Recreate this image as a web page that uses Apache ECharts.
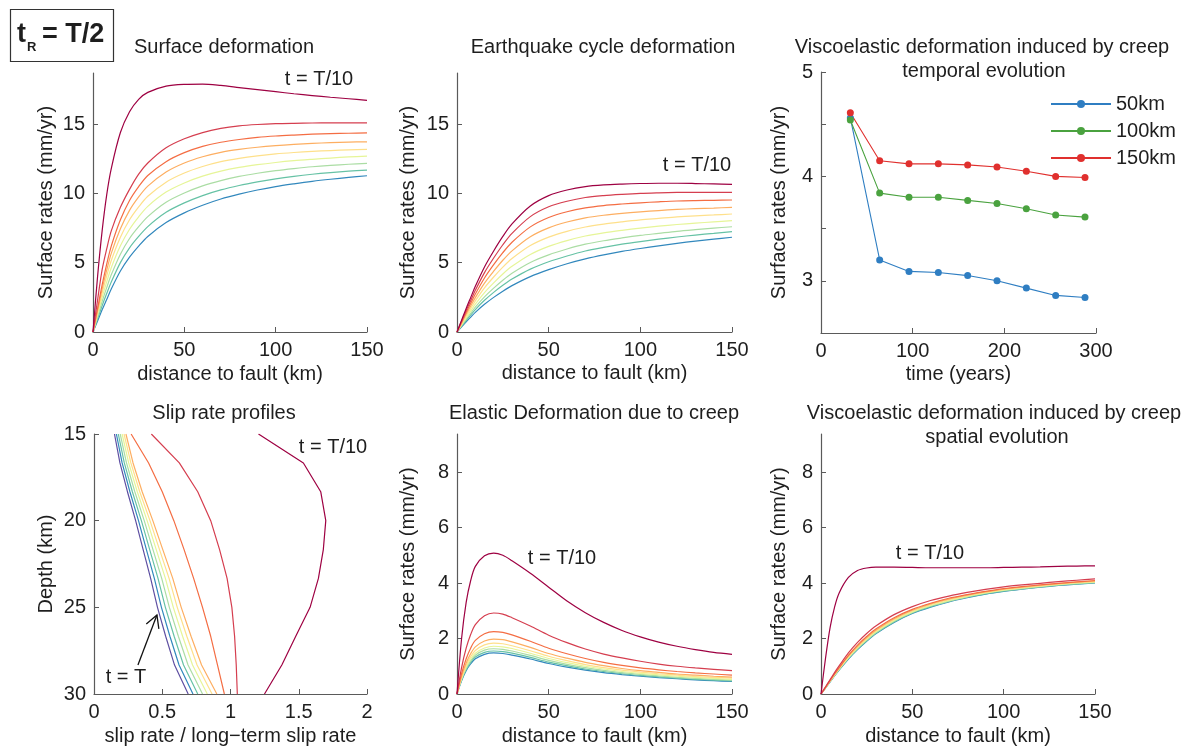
<!DOCTYPE html>
<html>
<head>
<meta charset="utf-8">
<script src="https://cdn.jsdelivr.net/npm/echarts@6/dist/echarts.min.js"></script>
<style>
html,body{margin:0;padding:0;background:#fff;}
#c{width:1189px;height:749px;}
</style>
</head>
<body>
<div id="c"></div>
<script>
// ---------- data ----------
const distKm = [0, 2.5, 5, 7.5, 10, 15, 20, 25, 30, 40, 50, 60, 70, 80, 90, 100, 110, 120, 130, 140, 150];
const curveColors = ['#9e0142', '#d53e4f', '#f46d43', '#fdae61', '#fee08b', '#e6f598', '#abdda4', '#66c2a5', '#3288bd'];
const slipColors = ['#9e0142', '#d53e4f', '#f46d43', '#fdae61', '#fee08b', '#e6f598', '#abdda4', '#66c2a5', '#3288bd', '#5e4fa2'];

// Panel 1: Surface deformation (t = T/10 first)
const surface_T10 = [0, 4.0, 7.3, 9.9, 11.8, 14.4, 15.9, 16.8, 17.3, 17.75, 17.88, 17.9, 17.8, 17.65, 17.5, 17.35, 17.2, 17.07, 16.95, 16.84, 16.73];
const surface_2 = [0, 2.3, 4.5, 6.0, 7.3, 9.0, 10.3, 11.4, 12.2, 13.3, 13.95, 14.4, 14.7, 14.88, 14.98, 15.04, 15.07, 15.09, 15.1, 15.1, 15.1];
const surface_3 = [0, 1.7, 3.4, 4.9, 6.2, 8.1, 9.5, 10.5, 11.3, 12.3, 12.95, 13.4, 13.7, 13.9, 14.05, 14.15, 14.22, 14.28, 14.32, 14.35, 14.37];
const surface_4 = [0, 1.55, 3.1, 4.47, 5.68, 7.45, 8.78, 9.75, 10.53, 11.55, 12.2, 12.65, 12.97, 13.18, 13.34, 13.46, 13.55, 13.62, 13.67, 13.71, 13.73];
const surface_5 = [0, 1.4, 2.8, 4.05, 5.16, 6.84, 8.1, 9.03, 9.8, 10.82, 11.48, 11.95, 12.3, 12.54, 12.72, 12.86, 12.96, 13.04, 13.1, 13.15, 13.18];
const surface_6 = [0, 1.25, 2.5, 3.62, 4.64, 6.22, 7.42, 8.32, 9.07, 10.1, 10.76, 11.25, 11.61, 11.88, 12.08, 12.24, 12.37, 12.47, 12.56, 12.64, 12.7];
const surface_7 = [0, 1.1, 2.2, 3.2, 4.13, 5.62, 6.75, 7.6, 8.33, 9.37, 10.04, 10.55, 10.93, 11.23, 11.46, 11.65, 11.8, 11.93, 12.03, 12.11, 12.17];
const surface_8 = [0, 0.95, 1.9, 2.78, 3.61, 5.01, 6.08, 6.9, 7.61, 8.64, 9.32, 9.85, 10.26, 10.58, 10.84, 11.06, 11.24, 11.39, 11.51, 11.61, 11.69];
const surface_9 = [0, 0.8, 1.6, 2.35, 3.1, 4.4, 5.4, 6.2, 6.9, 7.9, 8.6, 9.15, 9.6, 9.95, 10.25, 10.5, 10.7, 10.88, 11.03, 11.16, 11.28];

// Panel 2: Earthquake cycle deformation
const cycle_T10 = [0, 0.85, 1.7, 2.5, 3.3, 4.7, 5.85, 6.9, 7.8, 9.1, 9.85, 10.25, 10.5, 10.62, 10.68, 10.72, 10.74, 10.74, 10.72, 10.69, 10.66];
const cycle_2 = [0, 0.78, 1.55, 2.28, 3.01, 4.29, 5.34, 6.3, 7.12, 8.33, 9.04, 9.44, 9.71, 9.85, 9.94, 10.01, 10.05, 10.08, 10.09, 10.08, 10.08];
const cycle_3 = [0, 0.71, 1.41, 2.08, 2.74, 3.9, 4.86, 5.73, 6.48, 7.59, 8.27, 8.68, 8.96, 9.13, 9.24, 9.33, 9.4, 9.46, 9.49, 9.51, 9.53];
const cycle_4 = [0, 0.64, 1.28, 1.88, 2.48, 3.53, 4.39, 5.18, 5.86, 6.88, 7.52, 7.94, 8.24, 8.43, 8.57, 8.68, 8.77, 8.85, 8.91, 8.95, 9.0];
const cycle_5 = [0, 0.58, 1.16, 1.7, 2.25, 3.19, 3.97, 4.68, 5.3, 6.24, 6.85, 7.27, 7.58, 7.79, 7.95, 8.09, 8.2, 8.31, 8.39, 8.45, 8.52];
const cycle_6 = [0, 0.52, 1.03, 1.52, 2.01, 2.85, 3.55, 4.19, 4.74, 5.6, 6.18, 6.6, 6.93, 7.16, 7.34, 7.5, 7.64, 7.76, 7.86, 7.95, 8.04];
const cycle_7 = [0, 0.47, 0.92, 1.36, 1.8, 2.54, 3.17, 3.74, 4.24, 5.02, 5.57, 5.99, 6.34, 6.59, 6.79, 6.97, 7.12, 7.27, 7.39, 7.5, 7.6];
const cycle_8 = [0, 0.42, 0.83, 1.23, 1.62, 2.29, 2.86, 3.37, 3.82, 4.54, 5.07, 5.49, 5.85, 6.11, 6.34, 6.53, 6.7, 6.86, 7.0, 7.12, 7.25];
const cycle_9 = [0, 0.37, 0.73, 1.08, 1.42, 2.0, 2.5, 2.95, 3.35, 4.0, 4.5, 4.93, 5.28, 5.57, 5.82, 6.03, 6.22, 6.4, 6.56, 6.7, 6.84];

// Panel 3: temporal evolution
const timeYears = [32, 64, 96, 128, 160, 192, 224, 256, 288];
const rate50km = [4.56, 3.20, 3.09, 3.08, 3.05, 3.00, 2.93, 2.86, 2.84];
const rate100km = [4.54, 3.84, 3.80, 3.80, 3.77, 3.74, 3.69, 3.63, 3.61];
const rate150km = [4.61, 4.15, 4.12, 4.12, 4.11, 4.09, 4.05, 4.00, 3.99];

// Panel 4: slip rate profiles
const depthKm = [15, 16.67, 18.33, 20, 21.67, 23.33, 25, 26.67, 28.33, 30];
const slip_T10 = [1.205, 1.534, 1.661, 1.698, 1.68, 1.644, 1.583, 1.478, 1.376, 1.249];
const slip_2 = [0.42, 0.625, 0.76, 0.855, 0.92, 0.975, 1.01, 1.03, 1.042, 1.05];
const slip_3 = [0.272, 0.40, 0.50, 0.585, 0.66, 0.73, 0.795, 0.855, 0.905, 0.955];
const slip_4 = [0.234, 0.286, 0.353, 0.431, 0.504, 0.577, 0.639, 0.711, 0.788, 0.90];
const slip_5 = [0.22, 0.27, 0.335, 0.41, 0.48, 0.55, 0.61, 0.68, 0.755, 0.865];
const slip_6 = [0.206, 0.254, 0.317, 0.389, 0.456, 0.523, 0.581, 0.649, 0.722, 0.83];
const slip_7 = [0.192, 0.238, 0.299, 0.368, 0.432, 0.496, 0.552, 0.618, 0.689, 0.795];
const slip_8 = [0.178, 0.222, 0.281, 0.347, 0.408, 0.469, 0.523, 0.587, 0.656, 0.76];
const slip_9 = [0.164, 0.206, 0.263, 0.326, 0.384, 0.442, 0.494, 0.556, 0.623, 0.725];
const slip_T = [0.15, 0.19, 0.245, 0.305, 0.36, 0.415, 0.465, 0.525, 0.59, 0.69];

// Panel 5: Elastic deformation due to creep
const elastic_T10 = [0, 2.0, 3.3, 4.1, 4.6, 4.98, 5.08, 5.0, 4.8, 4.35, 3.85, 3.35, 2.93, 2.58, 2.29, 2.06, 1.87, 1.72, 1.6, 1.5, 1.43];
const elastic_2 = [0, 0.95, 1.65, 2.15, 2.5, 2.82, 2.92, 2.88, 2.75, 2.45, 2.12, 1.85, 1.62, 1.44, 1.3, 1.18, 1.08, 1.0, 0.94, 0.89, 0.84];
const elastic_3 = [0, 0.73, 1.27, 1.66, 1.93, 2.17, 2.25, 2.22, 2.13, 1.9, 1.65, 1.45, 1.28, 1.14, 1.03, 0.94, 0.87, 0.81, 0.76, 0.72, 0.68];
const elastic_4 = [0, 0.64, 1.12, 1.46, 1.7, 1.91, 1.98, 1.96, 1.88, 1.68, 1.46, 1.29, 1.14, 1.02, 0.92, 0.84, 0.78, 0.72, 0.68, 0.64, 0.61];
const elastic_5 = [0, 0.59, 1.03, 1.35, 1.57, 1.77, 1.83, 1.81, 1.74, 1.56, 1.36, 1.2, 1.06, 0.95, 0.86, 0.79, 0.73, 0.68, 0.63, 0.6, 0.57];
const elastic_6 = [0, 0.56, 0.97, 1.27, 1.47, 1.66, 1.72, 1.7, 1.64, 1.47, 1.28, 1.13, 1.0, 0.9, 0.81, 0.74, 0.69, 0.64, 0.6, 0.56, 0.53];
const elastic_7 = [0, 0.53, 0.92, 1.2, 1.4, 1.58, 1.63, 1.61, 1.55, 1.39, 1.21, 1.07, 0.95, 0.85, 0.77, 0.71, 0.65, 0.6, 0.56, 0.53, 0.5];
const elastic_8 = [0, 0.5, 0.88, 1.14, 1.33, 1.5, 1.55, 1.53, 1.47, 1.32, 1.15, 1.02, 0.9, 0.81, 0.73, 0.67, 0.62, 0.57, 0.53, 0.5, 0.47];
const elastic_9 = [0, 0.48, 0.84, 1.09, 1.27, 1.43, 1.48, 1.46, 1.4, 1.26, 1.1, 0.97, 0.86, 0.77, 0.7, 0.64, 0.59, 0.55, 0.51, 0.48, 0.45];

// Panel 6: Viscoelastic spatial evolution
const spatial_T10 = [0, 1.3, 2.4, 3.15, 3.65, 4.2, 4.45, 4.54, 4.57, 4.57, 4.56, 4.55, 4.55, 4.55, 4.55, 4.56, 4.57, 4.58, 4.6, 4.61, 4.62];
const spatial_2 = [0, 0.26, 0.52, 0.78, 1.02, 1.48, 1.86, 2.18, 2.45, 2.86, 3.15, 3.37, 3.53, 3.66, 3.77, 3.86, 3.93, 3.99, 4.05, 4.1, 4.15];
const spatial_3 = [0, 0.24, 0.49, 0.73, 0.96, 1.39, 1.76, 2.07, 2.34, 2.75, 3.05, 3.27, 3.45, 3.58, 3.7, 3.8, 3.87, 3.93, 3.99, 4.04, 4.09];
const spatial_4 = [0, 0.24, 0.48, 0.72, 0.94, 1.37, 1.72, 2.03, 2.3, 2.71, 3.02, 3.25, 3.42, 3.56, 3.68, 3.78, 3.85, 3.92, 3.98, 4.03, 4.07];
const spatial_5 = [0, 0.23, 0.47, 0.7, 0.92, 1.34, 1.69, 2.0, 2.27, 2.68, 2.99, 3.22, 3.4, 3.54, 3.66, 3.76, 3.83, 3.9, 3.96, 4.01, 4.05];
const spatial_6 = [0, 0.23, 0.46, 0.69, 0.91, 1.31, 1.67, 1.97, 2.24, 2.65, 2.96, 3.19, 3.37, 3.52, 3.64, 3.74, 3.82, 3.89, 3.95, 4.0, 4.04];
const spatial_7 = [0, 0.23, 0.45, 0.68, 0.89, 1.3, 1.64, 1.94, 2.21, 2.62, 2.94, 3.17, 3.35, 3.5, 3.63, 3.73, 3.8, 3.87, 3.93, 3.98, 4.02];
const spatial_8 = [0, 0.22, 0.45, 0.67, 0.88, 1.28, 1.62, 1.92, 2.19, 2.6, 2.92, 3.15, 3.34, 3.49, 3.61, 3.71, 3.79, 3.86, 3.92, 3.97, 4.01];
const spatial_9 = [0, 0.22, 0.44, 0.66, 0.87, 1.26, 1.6, 1.9, 2.17, 2.58, 2.9, 3.13, 3.32, 3.47, 3.6, 3.7, 3.78, 3.85, 3.91, 3.96, 4.0];

// tick values
const ticksRate18 = [0, 5, 10, 15];
const ticksRate9 = [0, 2, 4, 6, 8];

// ---------- chart ----------
const FONT = "'Liberation Sans', Arial, Helvetica, sans-serif";
const AX = '#5a5a5a';
const TXT = '#1e1e1e';

function axis(gridIndex, o) {
  const base = {
    type: 'value', gridIndex: gridIndex,
    nameLocation: 'middle',
    nameTextStyle: { fontSize: 20, color: TXT, fontFamily: FONT },
    axisLine: { show: true, onZero: false, lineStyle: { color: AX, width: 1.2 } },
    axisTick: { show: true, inside: true, length: 5, lineStyle: { color: AX, width: 1 } },
    splitLine: { show: false },
    axisLabel: { color: TXT, fontSize: 20, fontFamily: FONT, margin: 8 }
  };
  const r = Object.assign({}, base, o);
  if (o.axisLabel) r.axisLabel = Object.assign({}, base.axisLabel, o.axisLabel);
  if (o.axisTick) r.axisTick = Object.assign({}, base.axisTick, o.axisTick);
  return r;
}

function curveSeries(idx, xs, arrs, colors, smooth) {
  return arrs.map((arr, i) => ({
    type: 'line', xAxisIndex: idx, yAxisIndex: idx,
    data: xs.map((x, j) => [x, arr[j]]),
    showSymbol: false, symbol: 'none', smooth: smooth ? 0.3 : false,
    lineStyle: { color: colors[i], width: 1.2 },
    silent: true
  })).reverse();
}
function slipSeries(arrs) {
  return arrs.map((arr, i) => ({
    type: 'line', xAxisIndex: 3, yAxisIndex: 3,
    data: depthKm.map((d, j) => [arr[j], d]),
    showSymbol: false, symbol: 'none', smooth: false,
    lineStyle: { color: slipColors[i], width: 1.2 },
    silent: true
  })).reverse();
}
function timeSeries(name, arr, color) {
  return {
    name: name, type: 'line', xAxisIndex: 2, yAxisIndex: 2,
    data: timeYears.map((t, j) => [t, arr[j]]),
    symbol: 'circle', symbolSize: 7, showSymbol: true,
    lineStyle: { color: color, width: 1.1 }, itemStyle: { color: color },
    silent: true
  };
}

const chart = echarts.init(document.getElementById('c'), null, { renderer: 'canvas' });

const option = {
  animation: false,
  backgroundColor: '#ffffff',
  grid: [
    { left: 93, top: 73, width: 274, height: 259 },
    { left: 457, top: 73, width: 275, height: 259 },
    { left: 821, top: 72, width: 275, height: 261 },
    { left: 94, top: 434, width: 273, height: 260 },
    { left: 457, top: 434, width: 275, height: 260 },
    { left: 821, top: 434, width: 274, height: 260 }
  ],
  xAxis: [
    axis(0, { min: 0, max: 150, interval: 50, name: 'distance to fault (km)', nameGap: 32 }),
    axis(1, { min: 0, max: 150, interval: 50, name: 'distance to fault (km)', nameGap: 31 }),
    axis(2, { min: 0, max: 300, interval: 100, name: 'time (years)', nameGap: 31 }),
    axis(3, { min: 0, max: 2, interval: 0.5, name: 'slip rate / long\u2212term slip rate', nameGap: 32 }),
    axis(4, { min: 0, max: 150, interval: 50, name: 'distance to fault (km)', nameGap: 32 }),
    axis(5, { min: 0, max: 150, interval: 50, name: 'distance to fault (km)', nameGap: 32 })
  ],
  yAxis: [
    axis(0, { min: 0, max: 18.7, interval: 5, name: 'Surface rates (mm/yr)', nameGap: 37,
      axisLabel: { customValues: ticksRate18 }, axisTick: { customValues: ticksRate18 } }),
    axis(1, { min: 0, max: 18.7, interval: 5, name: 'Surface rates (mm/yr)', nameGap: 39,
      axisLabel: { customValues: ticksRate18 }, axisTick: { customValues: ticksRate18 } }),
    axis(2, { min: 2.5, max: 5, interval: 0.5, name: 'Surface rates (mm/yr)', nameGap: 32,
      axisLabel: { formatter: v => (Math.abs(v - Math.round(v)) < 1e-6 ? String(Math.round(v)) : '') } }),
    axis(3, { min: 15, max: 30, interval: 5, inverse: true, name: 'Depth (km)', nameGap: 38 }),
    axis(4, { min: 0, max: 9.37, interval: 2, name: 'Surface rates (mm/yr)', nameGap: 39,
      axisLabel: { customValues: ticksRate9 }, axisTick: { customValues: ticksRate9 } }),
    axis(5, { min: 0, max: 9.37, interval: 2, name: 'Surface rates (mm/yr)', nameGap: 32,
      axisLabel: { customValues: ticksRate9 }, axisTick: { customValues: ticksRate9 } })
  ],
  legend: {
    data: ['50km', '100km', '150km'],
    orient: 'vertical', left: 1050, top: 94, padding: 0,
    itemWidth: 60, itemHeight: 10, itemGap: 7,
    textStyle: { fontSize: 20, color: TXT, fontFamily: FONT },
    selectedMode: false
  },
  series: [].concat(
    curveSeries(0, distKm, [surface_T10, surface_2, surface_3, surface_4, surface_5, surface_6, surface_7, surface_8, surface_9], curveColors, true),
    curveSeries(1, distKm, [cycle_T10, cycle_2, cycle_3, cycle_4, cycle_5, cycle_6, cycle_7, cycle_8, cycle_9], curveColors, true),
    [timeSeries('50km', rate50km, '#2f7ec2'), timeSeries('100km', rate100km, '#4aa23f'), timeSeries('150km', rate150km, '#e0302e')],
    slipSeries([slip_T10, slip_2, slip_3, slip_4, slip_5, slip_6, slip_7, slip_8, slip_9, slip_T]),
    curveSeries(4, distKm, [elastic_T10, elastic_2, elastic_3, elastic_4, elastic_5, elastic_6, elastic_7, elastic_8, elastic_9], curveColors, true),
    curveSeries(5, distKm, [spatial_T10, spatial_2, spatial_3, spatial_4, spatial_5, spatial_6, spatial_7, spatial_8, spatial_9], curveColors, true)
  )
};
chart.setOption(option);

// ---------- annotations ----------
function txt(s, x, y, size, weight, align) {
  return {
    type: 'text', x: x, y: y, silent: true, z: 100,
    style: {
      text: s, fill: TXT, font: (weight || 'normal') + ' ' + size + 'px ' + FONT,
      align: align || 'center', verticalAlign: 'middle',
      textAlign: align || 'center', textVerticalAlign: 'middle'
    }
  };
}
const arrowFrom = [0.322, 28.33];
const arrowTo = [0.461, 25.44];
const p0 = chart.convertToPixel({ gridIndex: 3 }, arrowFrom);
const p1 = chart.convertToPixel({ gridIndex: 3 }, arrowTo);
const dx = p0[0] - p1[0], dy = p0[1] - p1[1];
const L = Math.sqrt(dx * dx + dy * dy);
const ux = dx / L, uy = dy / L;
function rot(a) { const c = Math.cos(a), s = Math.sin(a); return [p1[0] + 14 * (ux * c - uy * s), p1[1] + 14 * (ux * s + uy * c)]; }
const w1 = rot(0.5), w2 = rot(-0.5);

const graphics = [
  { type: 'rect', shape: { x: 10.5, y: 9.5, width: 103, height: 52 }, style: { fill: 'none', stroke: '#333', lineWidth: 1.2 }, silent: true },
  txt('t', 17, 35, 27, 'bold', 'left'),
  txt('R', 27, 47, 13, 'bold', 'left'),
  txt('= T/2', 42, 35, 27, 'bold', 'left'),
  txt('Surface deformation', 224, 47, 20),
  txt('Earthquake cycle deformation', 603, 47, 20),
  txt('Viscoelastic deformation induced by creep', 982, 47, 20),
  txt('temporal evolution', 984, 71, 20),
  txt('Slip rate profiles', 224, 413, 20),
  txt('Elastic Deformation due to creep', 594, 413, 20),
  txt('Viscoelastic deformation induced by creep', 994, 413, 20),
  txt('spatial evolution', 997, 437, 20),
  txt('t = T/10', 319, 79, 20),
  txt('t = T/10', 697, 165, 20),
  txt('t = T/10', 333, 447, 20),
  txt('t = T/10', 562, 558, 20),
  txt('t = T/10', 930, 553, 20),
  txt('t = T', 126, 677, 20),
  { type: 'polyline', shape: { points: [p0, p1] }, style: { stroke: '#111', lineWidth: 1.3, fill: null }, silent: true, z: 100 },
  { type: 'polyline', shape: { points: [w1, p1, w2] }, style: { stroke: '#111', lineWidth: 1.3, fill: null }, silent: true, z: 100 }
];
chart.setOption({ graphic: graphics });
</script>
</body>
</html>
